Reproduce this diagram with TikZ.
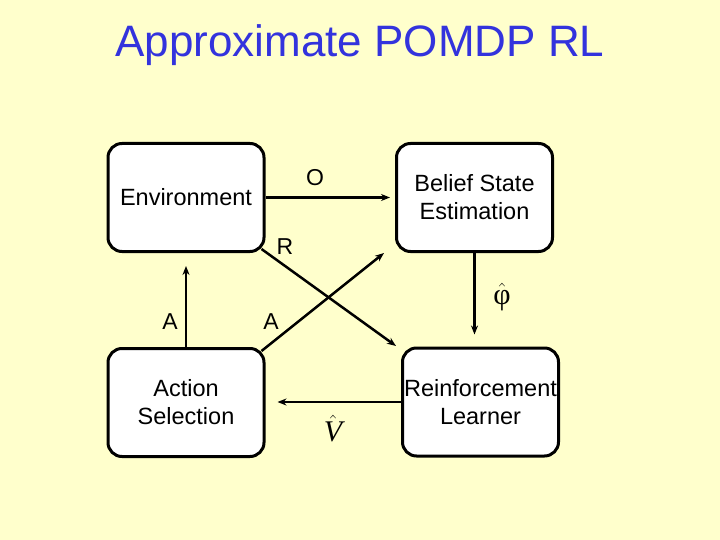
\documentclass[tikz,border=0pt]{standalone}
\usepackage{fontspec}
\setmainfont{Liberation Sans}
\newfontfamily\seriffont{Liberation Serif}
\usetikzlibrary{arrows.meta,calc}
\definecolor{bg}{HTML}{FFFFCC}
\definecolor{titleblue}{HTML}{3333DD}
\begin{document}
\begin{tikzpicture}[x=1pt,y=-1pt,
 box/.style={draw, line width=3pt, rounded corners=14pt, fill=white, minimum width=156pt, minimum height=108pt, align=center, font=\fontsize{23.5}{28}\selectfont, inner sep=0pt},
 arr/.style={-{Stealth[length=9pt,width=7pt]}, line width=2.5pt},
 lbl/.style={font=\fontsize{23}{25}\selectfont, inner sep=0pt},
 mlbl/.style={font=\fontsize{30}{32}\selectfont, inner sep=0pt}]
\fill[bg] (0,0) rectangle (720,540);
\useasboundingbox (0,0) rectangle (720,540);
\node[font=\fontsize{44}{50}\selectfont, text=titleblue] (title) at (360,45) {Approximate POMDP RL};
\node[box] (env) at (186,197.5) {Environment};
\node[box] (bel) at (474.5,197.5) {Belief State\\Estimation};
\node[box] (act) at (186,402.5) {Action\\Selection};
\node[box] (rl) at (480.5,402) {Reinforcement\\Learner};
\coordinate (rstart) at ($(env.south east)+(-4,-4)$);
\coordinate (astart) at ($(act.north east)+(-4,4)$);
\coordinate (rtip) at (396,346);
\coordinate (atip) at (384,253);
\draw[arr, shorten >=5pt] (env.east) -- (bel.west);
\draw[arr, shorten >=13pt] (act.north) -- (env.south);
\draw[arr, shorten >=12pt] (bel.south) -- (bel.south |- rl.north);
\draw[arr, shorten >=12pt] (rl.west) -- (rl.west -| act.east);
\draw[arr] (rstart) -- (rtip);
\draw[arr] (astart) -- (atip);
\node[lbl] (o) at (315,178) {O};
\node[lbl] (r) at (285,247) {R};
\node[lbl] (a1) at (170,322) {A};
\node[lbl] (a2) at (271,322) {A};
\node[mlbl] (phi) at (502,297) {$\hat{\mbox{\seriffont φ}}$};
\node[mlbl] (v) at (333,429) {$\hat{\mbox{\seriffont\itshape V}}$};
\end{tikzpicture}
\end{document}
